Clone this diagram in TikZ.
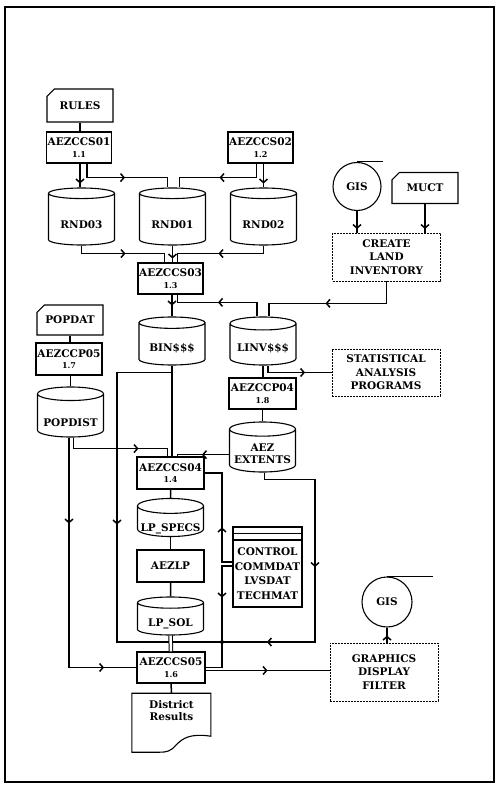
\documentclass[tikz,border=0pt]{standalone}
\usepackage{fontspec}
\setmainfont{DejaVu Serif}
\usetikzlibrary{shapes.geometric,shapes.misc,arrows.meta,positioning,calc,shadows,decorations.markings}
\newcommand{\pno}[1]{\\[-2pt]{\fontsize{8}{9}\selectfont #1}}
\newcommand{\low}[2][5pt]{\raisebox{-#1}[\height][\depth]{#2}}

\begin{document}
\begin{tikzpicture}[x=1pt,y=-1pt,font=\bfseries\fontsize{10.5}{13.5}\selectfont,
  box/.style={draw,line width=1.1pt,minimum width=65pt,minimum height=31pt,inner sep=1pt,align=center},
  card/.style={chamfered rectangle,chamfered rectangle corners=north west,chamfered rectangle xsep=4pt,draw,line width=1.1pt,minimum width=66pt,minimum height=31pt,inner sep=1pt},
  store/.style={cylinder,shape border rotate=90,aspect=0.24,draw,line width=1.1pt,minimum width=66pt,inner sep=1pt,anchor=shape center},
  proc/.style={draw,dash pattern=on 2pt off 1pt,line width=0.8pt,minimum width=108pt,inner sep=1pt,align=center},
  reel/.style={circle,draw,line width=1.1pt,minimum size=48pt,inner sep=0pt},
  ln/.style={line width=1.5pt},
  mk/.style={postaction={decorate,decoration={markings,mark=at position #1 with {\arrow{Straight Barb[length=3.5pt,width=8pt]}}}}}]
  \useasboundingbox (0,0) rectangle (500,791);
  \draw[line width=2pt] (5,7) rectangle (494,782);

  % land and climate inputs
  \node[card,minimum height=33pt] (rules) at (80,105.5) {RULES};
  \node[box] (s01) at (79,147.5) {AEZCCS01\pno{1.1}};
  \node[box] (s02) at (260.5,147.5) {AEZCCS02\pno{1.2}};
  \node[store,minimum height=57pt] (rnd03) at (81.5,216.5) {\low{RND03}};
  \node[store,minimum height=57pt] (rnd01) at (172.5,216.5) {\low{RND01}};
  \node[store,minimum height=57pt] (rnd02) at (263.5,216.5) {\low{RND02}};
  \node[reel] (gis1) at (357,186.5) {GIS};
  \node[card] (muct) at (425,188) {MUCT};
  \node[proc,minimum height=48pt] (create) at (386.5,257) {CREATE\\LAND\\INVENTORY};
  \node[box] (s03) at (170.5,278.5) {AEZCCS03\pno{1.3}};
  \node[store,minimum height=48pt] (bin) at (172,341) {\low[3pt]{BIN\$\$\$}};
  \node[store,minimum height=48pt] (linv) at (263,341) {\low[3pt]{LINV\$\$\$}};
  \node[proc,minimum height=47pt] (stat) at (386,372.5) {STATISTICAL\\ANALYSIS\\PROGRAMS};
  \node[box,minimum width=67pt] (p04) at (262.5,393.5) {AEZCCP04\pno{1.8}};
  \node[store,minimum height=50pt] (aez) at (262.5,447) {\low[3pt]{\begin{tabular}{@{}c@{}}AEZ\\[-2pt]EXTENTS\end{tabular}}};

  % population
  \node[card,minimum height=30pt] (popdat) at (70,320) {POPDAT};
  \node[box,minimum width=66pt,minimum height=32pt] (p05) at (69,359) {AEZCCP05\pno{1.7}};
  \node[store,minimum height=50pt] (popdist) at (70.5,412) {\low[6pt]{POPDIST}};

  % LP chain
  \node[box,minimum width=67pt,minimum height=32pt] (s04) at (170.5,473) {AEZCCS04\pno{1.4}};
  \node[store,minimum height=38pt] (specs) at (170.5,517.5) {\low[6pt]{LP\_SPECS}};
  \node[box,minimum width=67pt,minimum height=32pt] (aezlp) at (170.5,566) {AEZLP};
  \node[store,minimum height=38pt] (sol) at (170.5,616) {\low[4pt]{LP\_SOL}};
  \node[box,fill=white,double copy shadow={shadow xshift=0pt,shadow yshift=6.5pt},minimum width=69pt,minimum height=67pt,font=\bfseries\fontsize{10.5}{14.5}\selectfont] (ctrl) at (267.5,573.5) {CONTROL\\COMMDAT\\LVSDAT\\TECHMAT};
  \node[box,minimum width=68pt] (s05) at (171,667.5) {AEZCCS05\pno{1.6}};
  \node[minimum width=79pt,minimum height=59pt,inner sep=0pt,label={[align=center,anchor=north,yshift=-4pt,font=\bfseries\fontsize{10.5}{12}\selectfont]north:{District\\Results}}] (dist) at (171.5,722.5) {};
  \node[reel,minimum size=50pt] (gis2) at (387,602) {GIS};
  \node[proc,minimum height=58pt] (graph) at (384,672) {GRAPHICS\\DISPLAY\\FILTER};

  % tape marks and report outline
  \draw[line width=1.1pt] (gis1.north) -- ++(26,0);
  \draw[line width=1.1pt] (gis2.north) -- ++(46,0);
  \draw[line width=1.1pt,shift={(dist.south west)}] (0,-59) -- (79,-59) -- (79,-16)
    .. controls (58,-19) and (51,-14) .. (44,-7) .. controls (39,-1) and (35,0) .. (28,0) -- (0,0) -- cycle;

  % connectors
  \draw[ln] (rules.south) -- (rules.south |- s01.north);
  \draw[ln,mk=20pt] (s01.south -| rules.south) -- (rules.south |- rnd03.north);
  \draw[ln,mk=52pt] ([xshift=8pt]s01.south) -- ++(0,14) -| ([xshift=-5pt]rnd01.north);
  \draw[ln,mk=51pt] ([xshift=-4pt]s02.south) -- ++(0,14) -| ([xshift=7pt]rnd01.north);
  \draw[ln,mk=20pt] (rnd02.north |- s02.south) -- (rnd02.north);
  \draw[ln,mk=52pt] (rnd03.south) -- ++(0,8) -| ([xshift=-6pt]s03.north);
  \draw[ln,mk=13pt] (rnd01.south) -- (rnd01.south |- s03.north);
  \draw[ln,mk=53pt] (rnd02.south) -- ++(0,8) -| ([xshift=7pt]s03.north);
  \draw[ln,mk=18pt] (gis1.south) -- (gis1.south |- create.north);
  \draw[ln,mk=25pt] (muct.south) -- (muct.south |- create.north);
  \draw[ln,mk=83pt] (create.south) -- ++(0,22) -| ([xshift=6pt]linv.north);
  \draw[ln,mk=53pt] ([xshift=-6pt]linv.north) -- ++(0,-14) -| ([xshift=7pt]s03.south);
  \draw[ln,mk=11pt] (s03.south -| bin.north) -- (bin.north);
  \draw[ln] (bin.south) -- (bin.south |- s04.north);
  \coordinate (jn) at (222,642);
  \draw[ln,mk=207pt] ([yshift=-7pt]bin.south) -| (117,642) -- (jn);
  \draw[ln,mk=27pt] ([yshift=-3pt]aez.west) -| ([xshift=7pt]s04.north);
  \draw[ln,mk=145pt,mk=268pt] ([xshift=2pt]aez.south) -- ++(0,7) -| (315,642) -- (jn);
  \draw[ln,mk=42pt] (ctrl.west |- 0,566) -| (jn) |- (s05.east);
  \draw[ln,mk=45pt] (ctrl.west |- 0,562) -| (jn |- s04.east) -- (s04.east);
  \fill (jn) circle (2pt);
  \draw[ln,mk=76pt] ([xshift=3pt]popdist.south) -- ++(0,11) -| ([xshift=-3pt]s04.north);
  \draw[ln,mk=86pt,mk=265pt] ([xshift=-1.5pt]popdist.south) |- (s05.west);
  \draw[ln] (popdat.south) -- (popdat.south |- p05.north);
  \draw[ln] (p05.south -| popdist.north) -- (popdist.north);
  \draw[ln] (linv.south) -- (linv.south |- p04.north);
  \draw[ln,mk=44pt] ([xshift=5pt]linv.south) |- (stat.west);
  \draw[ln] (p04.south) -- (p04.south |- aez.north);
  \draw[ln] (s04.south) -- (specs.north);
  \draw[ln] (specs.south) -- (aezlp.north);
  \draw[ln] (aezlp.south) -- (sol.north);
  \draw[line width=1pt,double distance=2.5pt] (sol.south) -- (s05.north);
  \draw[ln] (s05.south) -- (dist.north);
  \draw[ln,mk=62pt] ([yshift=-3pt]s05.east) -- ([yshift=-3pt]s05.east -| graph.west);
  \draw[ln,mk=7pt] (graph.north -| gis2.south) -- (gis2.south);
\end{tikzpicture}
\end{document}
